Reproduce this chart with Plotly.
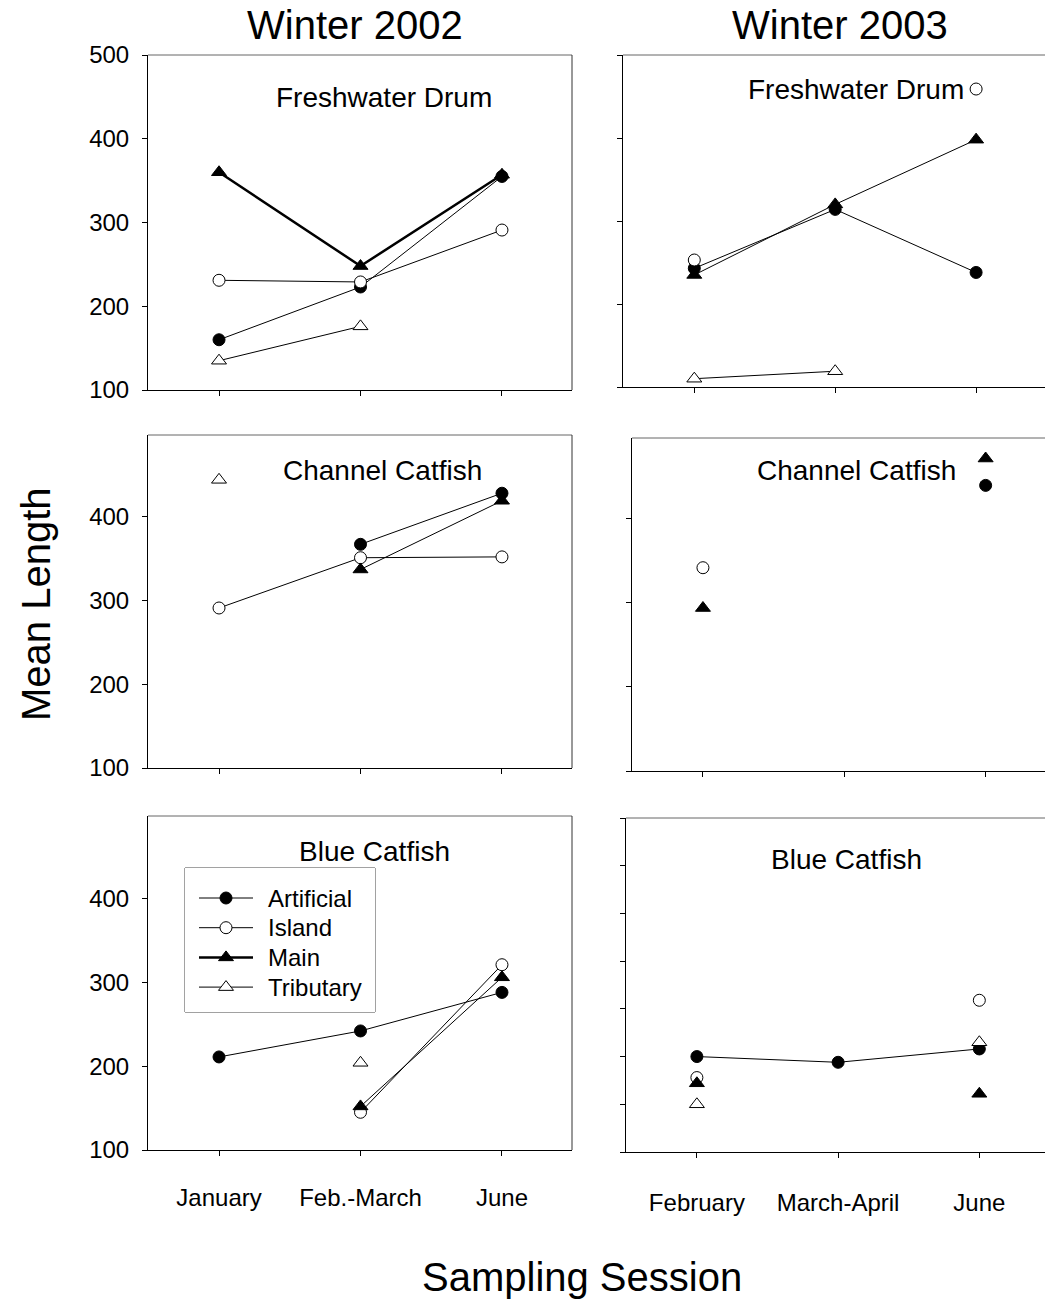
import plotly.graph_objects as go

# ---------------- data ----------------
categories_2002 = ["January", "Feb.-March", "June"]
categories_2003 = ["February", "March-April", "June"]

# Freshwater Drum
drum02_artificial = [160, 223, 355]
drum02_island = [231, 229, 291]
drum02_main = [360, 248, 357]
drum02_tributary = [135, 176, None]

drum03_artificial = [243, 314, 238]
drum03_island = [253, None, 459]
drum03_main = [235, 320, 398]
drum03_tributary = [110, 119, None]

# Channel Catfish
channel02_artificial = [None, 367, 428]
channel02_island = [291, 351, 352]
channel02_main = [None, 337, 419]
channel02_tributary = [444, None, None]

channel03_artificial = [None, None, 440]
channel03_island = [342, None, None]
channel03_main = [294, None, 472]
channel03_tributary = [None, None, None]

# Blue Catfish
blue02_artificial = [211, 242, 288]
blue02_island = [None, 145, 321]
blue02_main = [None, 152, 306]
blue02_tributary = [None, 204, None]

blue03_artificial = [200, 194, 208]
blue03_island = [178, None, 259]
blue03_main = [172, None, 161]
blue03_tributary = [150, None, 215]

series_names = ["Artificial", "Island", "Main", "Tributary"]

# ---------------- layout helpers ----------------
W, H = 1045, 1302
FONT = "Arial, Liberation Sans, sans-serif"


def fx(px):
    return px / W


def fy(px):
    return 1 - px / H


styles = {
    "Artificial": dict(symbol="circle", color="black", size=12),
    "Island": dict(symbol="circle", color="white", size=12),
    "Main": dict(symbol="triangle-up", color="black", size=13),
    "Tributary": dict(symbol="triangle-up", color="white", size=13),
}

panels = [
    dict(x0=148, x1=572, y0=55, y1=390, xr=[-0.502, 2.495], yr=[100, 500],
         ytv=[100, 200, 300, 400, 500], ylab=True, xlab=False, cats=categories_2002,
         data=[drum02_artificial, drum02_island, drum02_main, drum02_tributary], main_w=2.5,
         title="Freshwater Drum", tx=384, ty=97, right=True),
    dict(x0=623, x1=1045, y0=55, y1=387, xr=[-0.506, 2.489], yr=[100, 500],
         ytv=[100, 200, 300, 400, 500], ylab=False, xlab=False, cats=categories_2003,
         data=[drum03_artificial, drum03_island, drum03_main, drum03_tributary], main_w=1,
         title="Freshwater Drum", tx=856, ty=89, right=False),
    dict(x0=148, x1=572, y0=435, y1=768, xr=[-0.502, 2.495], yr=[100, 497.5],
         ytv=[100, 200, 300, 400], ylab=True, xlab=False, cats=categories_2002,
         data=[channel02_artificial, channel02_island, channel02_main, channel02_tributary], main_w=1,
         title="Channel Catfish", tx=382, ty=471, right=True),
    dict(x0=632, x1=1045, y0=438, y1=771, xr=[-0.502, 2.42], yr=[100, 496.4],
         ytv=[100, 200, 300, 400], ylab=False, xlab=False, cats=categories_2003,
         data=[channel03_artificial, channel03_island, channel03_main, channel03_tributary], main_w=1,
         title="Channel Catfish", tx=856, ty=471, right=False),
    dict(x0=148, x1=572, y0=816, y1=1150, xr=[-0.502, 2.495], yr=[100, 498.4],
         ytv=[100, 200, 300, 400], ylab=True, xlab=True, cats=categories_2002, standoff=21,
         data=[blue02_artificial, blue02_island, blue02_main, blue02_tributary], main_w=1,
         title="Blue Catfish", tx=374, ty=851, right=True),
    dict(x0=626, x1=1045, y0=818, y1=1152, xr=[-0.502, 2.465], yr=[100, 450],
         ytv=[100, 150, 200, 250, 300, 350, 400, 450], ylab=False, xlab=True, cats=categories_2003,
         standoff=24,
         data=[blue03_artificial, blue03_island, blue03_main, blue03_tributary], main_w=1,
         title="Blue Catfish", tx=846, ty=860, right=False),
]

fig = go.Figure()
annotations = []
shapes = []

for i, p in enumerate(panels, start=1):
    xa = "x" if i == 1 else f"x{i}"
    ya = "y" if i == 1 else f"y{i}"
    xkey = "xaxis" if i == 1 else f"xaxis{i}"
    ykey = "yaxis" if i == 1 else f"yaxis{i}"
    for name, vals in zip(series_names, p["data"]):
        st = styles[name]
        lw = p["main_w"] if name == "Main" else 1
        fig.add_trace(go.Scatter(
            x=[0, 1, 2], y=vals, name=name, mode="lines+markers",
            xaxis=xa, yaxis=ya, connectgaps=False,
            line=dict(color="black", width=lw),
            marker=dict(symbol=st["symbol"], size=st["size"], color=st["color"],
                        line=dict(color="black", width=1)),
            showlegend=False, cliponaxis=False,
        ))
    fig.layout[xkey] = dict(
        domain=[fx(p["x0"]), fx(p["x1"])], anchor=ya, range=p["xr"], automargin=False,
        tickmode="array", tickvals=[0, 1, 2], ticktext=p["cats"],
        showticklabels=p["xlab"], ticks="outside", ticklen=5, tickcolor="black",
        showline=True, linecolor="black", linewidth=1, showgrid=False, zeroline=False,
        tickfont=dict(family=FONT, size=24, color="black"),
        ticklabelstandoff=p.get("standoff", 0),
    )
    fig.layout[ykey] = dict(
        domain=[fy(p["y1"]), fy(p["y0"])], anchor=xa, range=p["yr"], automargin=False,
        tickmode="array", tickvals=p["ytv"],
        showticklabels=p["ylab"], ticks="outside", ticklen=5, tickcolor="black",
        showline=True, linecolor="black", linewidth=1, showgrid=False, zeroline=False,
        tickfont=dict(family=FONT, size=24, color="black"),
        ticklabelstandoff=8,
    )
    shapes.append(dict(type="line", xref=f"{xa} domain", yref=f"{ya} domain",
                       x0=0, x1=1, y0=1, y1=1, line=dict(color="#666666", width=1)))
    if p["right"]:
        shapes.append(dict(type="line", xref=f"{xa} domain", yref=f"{ya} domain",
                           x0=1, x1=1, y0=0, y1=1, line=dict(color="#333333", width=1)))
    annotations.append(dict(text=p["title"], x=fx(p["tx"]), y=fy(p["ty"]), xref="paper", yref="paper",
                            xanchor="center", yanchor="middle", showarrow=False,
                            font=dict(family=FONT, size=28, color="black")))

# ---------------- hand-built legend (in its own pixel-scaled axis) ----------------
LEG_X0, LEG_X1, LEG_Y0, LEG_Y1 = 185, 375, 868, 1012
leg_row0, leg_step = 898, 29.7
leg_line_x = [199, 253]
leg_mark_x = 226
leg_text_x = 266
fig.layout["xaxis7"] = dict(domain=[fx(LEG_X0), fx(LEG_X1)], range=[LEG_X0, LEG_X1], anchor="y7",
                            visible=False, automargin=False, fixedrange=True)
fig.layout["yaxis7"] = dict(domain=[fy(LEG_Y1), fy(LEG_Y0)], range=[LEG_Y1, LEG_Y0], anchor="x7",
                            visible=False, automargin=False, fixedrange=True)
shapes.append(dict(type="rect", xref="x7 domain", yref="y7 domain", x0=0, x1=1, y0=0, y1=1,
                   line=dict(color="#444444", width=1), fillcolor="white", layer="below"))
for k, name in enumerate(series_names):
    st = styles[name]
    ry = leg_row0 + k * leg_step
    lw = 2.5 if name == "Main" else 1
    fig.add_trace(go.Scatter(x=leg_line_x, y=[ry, ry], mode="lines", xaxis="x7", yaxis="y7",
                             line=dict(color="black", width=lw), showlegend=False, hoverinfo="skip"))
    fig.add_trace(go.Scatter(x=[leg_mark_x], y=[ry], mode="markers", xaxis="x7", yaxis="y7",
                             marker=dict(symbol=st["symbol"], size=st["size"], color=st["color"],
                                         line=dict(color="black", width=1)),
                             showlegend=False, hoverinfo="skip"))
    annotations.append(dict(text=name, x=leg_text_x, y=ry, xref="x7", yref="y7", showarrow=False,
                            xanchor="left", yanchor="middle",
                            font=dict(family=FONT, size=24, color="black")))

annotations += [
    dict(text="Winter 2002", x=fx(355), y=fy(25), xref="paper", yref="paper", showarrow=False,
         xanchor="center", yanchor="middle", font=dict(family=FONT, size=40, color="black")),
    dict(text="Winter 2003", x=fx(840), y=fy(25), xref="paper", yref="paper", showarrow=False,
         xanchor="center", yanchor="middle", font=dict(family=FONT, size=40, color="black")),
    dict(text="Mean Length", x=fx(36), y=fy(604), xref="paper", yref="paper", showarrow=False,
         textangle=-90, xanchor="center", yanchor="middle",
         font=dict(family=FONT, size=40, color="black")),
    dict(text="Sampling Session", x=fx(582), y=fy(1277), xref="paper", yref="paper", showarrow=False,
         xanchor="center", yanchor="middle", font=dict(family=FONT, size=40, color="black")),
]

fig.update_layout(
    template="none",
    width=W, height=H, margin=dict(l=0, r=0, t=0, b=0, autoexpand=False),
    paper_bgcolor="white", plot_bgcolor="white",
    annotations=annotations, shapes=shapes,
    showlegend=False,
)

fig.write_html("out.html")
